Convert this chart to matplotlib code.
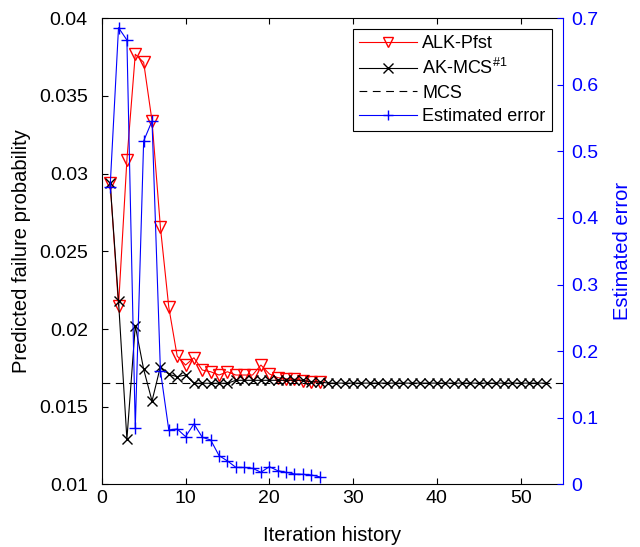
import numpy as np
import matplotlib
matplotlib.use('Agg')
import matplotlib.pyplot as plt

plt.rcParams['font.family'] = ['Liberation Sans', 'DejaVu Sans']
plt.rcParams['mathtext.fontset'] = 'custom'
plt.rcParams['mathtext.rm'] = 'Liberation Sans'
plt.rcParams['mathtext.it'] = 'Liberation Sans'

# Données
alk_pfst = [0.0294, 0.02148, 0.03087, 0.03767, 0.03715, 0.03338, 0.02654, 0.0214,
            0.01826, 0.01768, 0.01815, 0.01736, 0.01725, 0.01704, 0.01725, 0.01704,
            0.01704, 0.01704, 0.01768, 0.01711, 0.01687, 0.0168, 0.01677, 0.01668,
            0.01661, 0.01658]
ak_mcs = [0.0294, 0.0218, 0.01291, 0.02021, 0.01741, 0.01537, 0.01758, 0.01709,
          0.01693, 0.01704, 0.01651, 0.01651, 0.01651, 0.01651, 0.01651, 0.0167,
          0.0167, 0.0167, 0.0167, 0.0167, 0.0167, 0.0167, 0.0167, 0.0167,
          0.0166, 0.0166] + [0.01652] * 27
est_error = [0.447, 0.6855, 0.667, 0.0843, 0.5155, 0.5455, 0.171, 0.0818,
             0.0833, 0.0718, 0.0908, 0.0708, 0.0668, 0.0433, 0.0353, 0.0258,
             0.0255, 0.0243, 0.0183, 0.0267, 0.0207, 0.0183, 0.0158, 0.0153,
             0.0143, 0.0115]
mcs_value = 0.01651

it_alk = np.arange(1, len(alk_pfst) + 1)
it_ak = np.arange(1, len(ak_mcs) + 1)
it_err = np.arange(1, len(est_error) + 1)

fig = plt.figure(figsize=(6.4, 5.47), dpi=100)
ax = fig.add_axes([0.159, 0.1143, 0.72, 0.8527])
ax2 = ax.twinx()

l1, = ax.plot(it_alk, alk_pfst, '-v', color='red', mfc='none', mec='red',
              markersize=8, linewidth=0.8, label='ALK-Pfst')
l2, = ax.plot(it_ak, ak_mcs, '-x', color='black', markersize=7, linewidth=0.8,
              label='AK-MCS$^{\\#1}$')
l3, = ax.plot([0, 55], [mcs_value, mcs_value], '--', color='black', linewidth=0.8,
              dashes=(7, 5), label='MCS')
l4, = ax2.plot(it_err, est_error, '-+', color='blue', markersize=8, linewidth=0.8,
               label='Estimated error')

ax.set_xlim(0, 55)
ax.set_ylim(0.01, 0.04)
ax.set_xticks([0, 10, 20, 30, 40, 50])
ax.set_yticks([0.01, 0.015, 0.02, 0.025, 0.03, 0.035, 0.04])
ax.set_yticklabels(['0.01', '0.015', '0.02', '0.025', '0.03', '0.035', '0.04'])
ax2.set_ylim(0, 0.7)
ax2.set_yticks(np.arange(0, 0.71, 0.1))
ax2.set_yticklabels(['0', '0.1', '0.2', '0.3', '0.4', '0.5', '0.6', '0.7'])

ax.tick_params(axis='both', direction='in', labelsize=14, top=True, length=4)
ax.tick_params(axis='y', pad=10)
ax.tick_params(axis='x', pad=4)
ax2.tick_params(axis='y', direction='in', labelsize=14, colors='blue', length=4, pad=6)
ax2.spines['right'].set_color('blue')
for s in ['left', 'top', 'bottom']:
    ax2.spines[s].set_visible(False)
ax.spines['right'].set_visible(False)

ax.set_xlabel('Iteration history', fontsize=14.5, labelpad=14)
ax.set_ylabel('Predicted failure probability', fontsize=14.5, labelpad=6)
ax2.set_ylabel('Estimated error', fontsize=14.5, color='blue', labelpad=11)

leg = ax2.legend(handles=[l1, l2, l3, l4], loc='upper right',
                 bbox_to_anchor=(0.985, 0.985), fontsize=13, fancybox=False,
                 edgecolor='black', framealpha=1, handlelength=3.2,
                 handletextpad=0.3, borderaxespad=0.2, labelspacing=0.35,
                 borderpad=0.35)
leg.get_frame().set_linewidth(0.8)
for h in leg.legend_handles:
    h.set_markersize(7)

fig.savefig('out.png', dpi=100)
